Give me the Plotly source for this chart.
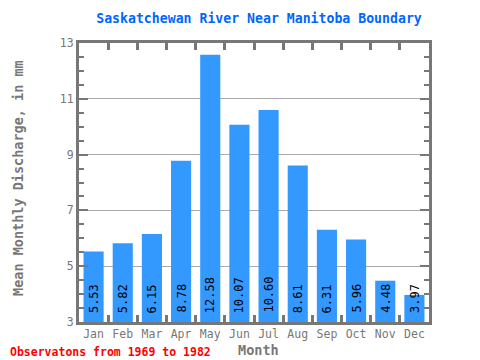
import plotly.graph_objects as go

months = ["Jan", "Feb", "Mar", "Apr", "May", "Jun", "Jul", "Aug", "Sep", "Oct", "Nov", "Dec"]
discharge = [5.53, 5.82, 6.15, 8.78, 12.58, 10.07, 10.60, 8.61, 6.31, 5.96, 4.48, 3.97]
y_ticks = [3, 5, 7, 9, 11, 13]

FONT = "DejaVu Sans Mono"
AXIS_GRAY = "#777777"
# page has an 8px body margin; figure coords = page coords - 8
OFF = 8
W, H = 480 - OFF, 360 - OFF
PLOT_L, PLOT_R, PLOT_T, PLOT_B = 79 - OFF, 429 - OFF, 43 - OFF, 322 - OFF
PW, PH = PLOT_R - PLOT_L, PLOT_B - PLOT_T


def px_x(x):
    return (x - OFF - PLOT_L) / PW


def px_y(y):
    return (PLOT_B - (y - OFF)) / PH


fig = go.Figure()
fig.add_trace(go.Bar(
    x=months, y=[v - 3 for v in discharge], base=3,
    marker=dict(color="#3399ff", line=dict(width=0)),
    hoverinfo="skip",
))

for m, v in zip(months, discharge):
    fig.add_annotation(
        x=m, y=3, xref="x", yref="y", text=f"{v:.2f}", textangle=-90,
        showarrow=False, yanchor="bottom", yshift=7,
        font=dict(family=FONT, size=12, color="#000000"),
    )

fig.add_annotation(
    x=px_x(8), xanchor="left", y=px_y(352), yanchor="middle",
    xref="paper", yref="paper", text="<b>Observatons from 1969 to 1982</b>",
    showarrow=False, font=dict(family=FONT, size=11.5, color="#ff0000"),
)
fig.add_annotation(
    x=px_x(258), xanchor="center", y=px_y(349.5), yanchor="middle",
    xref="paper", yref="paper", text="<b>Month</b>",
    showarrow=False, font=dict(family=FONT, size=13.5, color="#777777"),
)
fig.add_annotation(
    x=px_x(18), xanchor="center", y=px_y(178), yanchor="middle",
    xref="paper", yref="paper", text="<b>Mean Monthly Discharge, in mm</b>", textangle=-90,
    showarrow=False, font=dict(family=FONT, size=13.5, color="#777777"),
)

fig.update_layout(
    width=W, height=H,
    margin=dict(l=PLOT_L, r=W - PLOT_R, t=PLOT_T, b=H - PLOT_B, autoexpand=False),
    paper_bgcolor="white", plot_bgcolor="white",
    showlegend=False, bargap=0.31,
    title=dict(text="<b>Saskatchewan River Near Manitoba Boundary</b>",
               x=(259 - OFF) / W, xanchor="center", y=1 - (18 - OFF) / H, yanchor="middle",
               font=dict(family=FONT, size=13.2, color="#0066ff")),
)

fig.update_xaxes(
    showline=True, linewidth=3, linecolor=AXIS_GRAY, mirror="allticks",
    ticks="inside", tickson="boundaries", ticklen=7, tickwidth=3, tickcolor=AXIS_GRAY,
    tickangle=0, automargin=False, ticklabelstandoff=-1,
    tickfont=dict(family=FONT, size=11.5, color="#777777"),
    showgrid=False,
)
fig.update_yaxes(
    range=[3, 13], tickvals=y_ticks, ticktext=[str(t) for t in y_ticks],
    showline=True, linewidth=3, linecolor=AXIS_GRAY, mirror="allticks",
    ticks="inside", ticklen=9, tickwidth=2, tickcolor=AXIS_GRAY, automargin=False,
    minor=dict(dtick=0.5, ticks="inside", ticklen=5, tickwidth=2, tickcolor=AXIS_GRAY, showgrid=False),
    showgrid=True, gridcolor="#aaaaaa", gridwidth=1,
    tickfont=dict(family=FONT, size=11.5, color="#777777"),
    zeroline=False,
)

fig.write_html("out.html")
